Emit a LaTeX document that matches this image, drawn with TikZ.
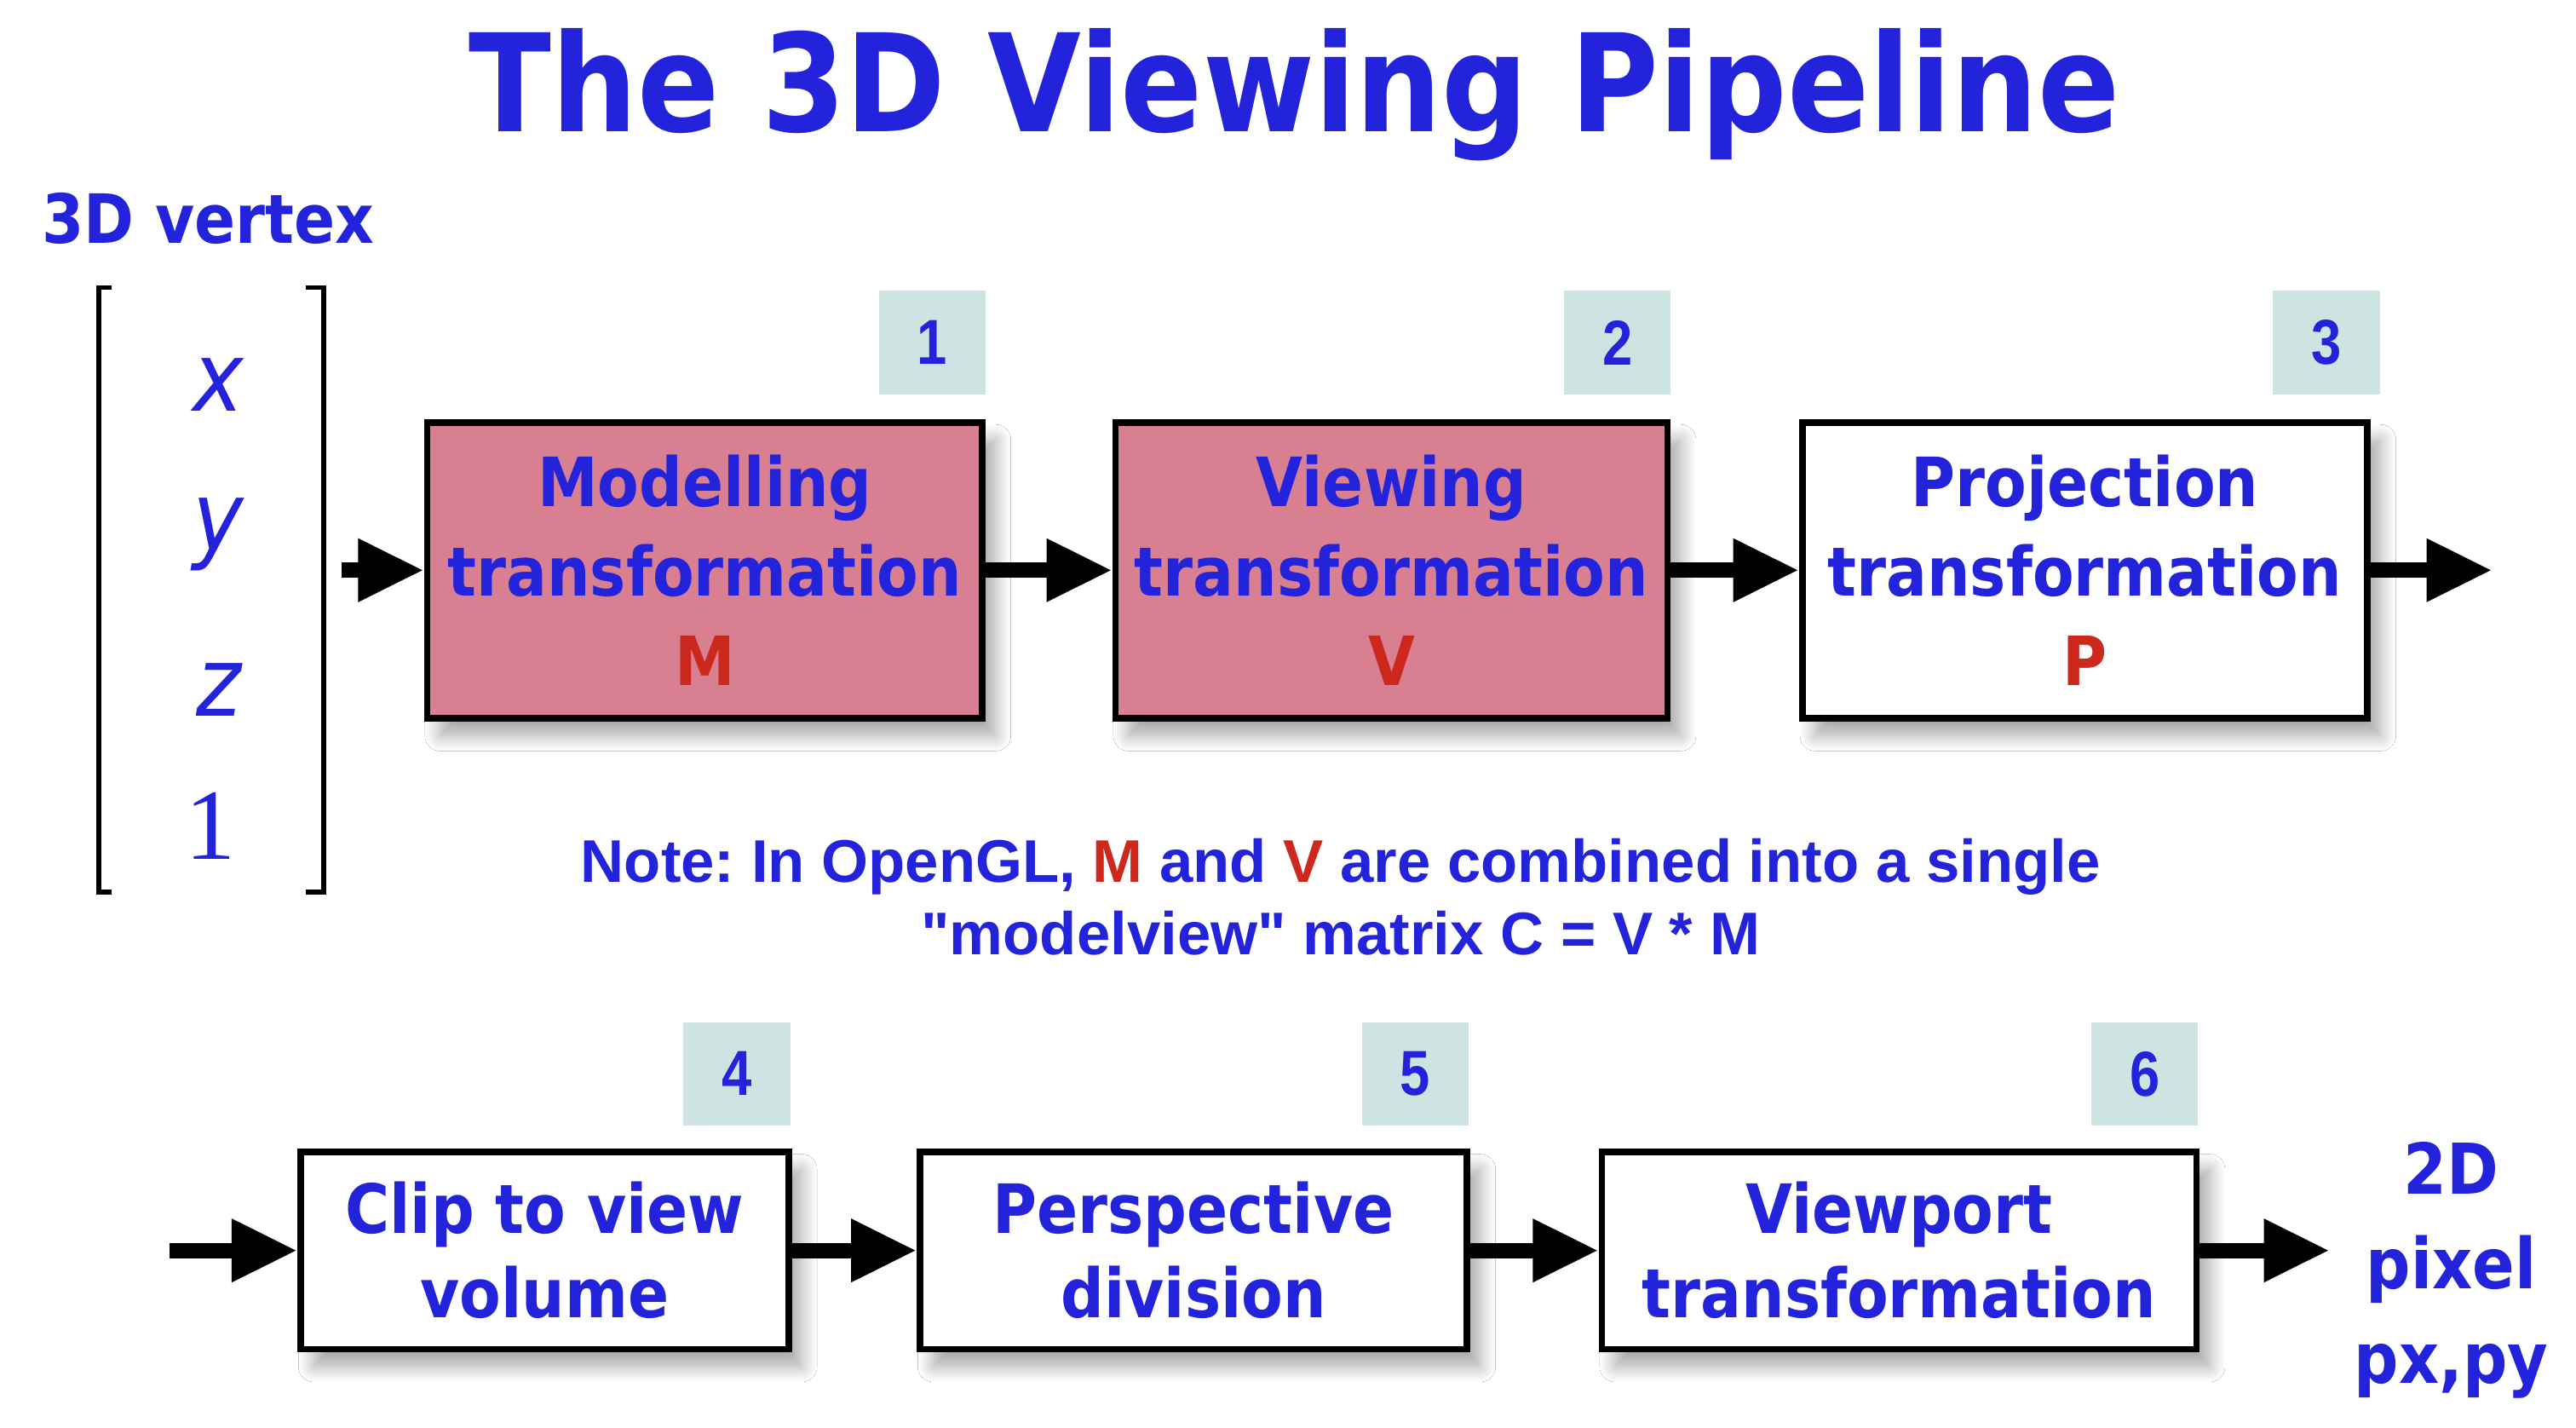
\documentclass[tikz,border=0pt]{standalone}
\usepackage{fontspec}
\usetikzlibrary{arrows.meta,shadows.blur}
\setmainfont{DejaVu Sans}[FakeStretch=0.89]
\newfontfamily\notefont{Liberation Sans}
\newfontfamily\tagfont{Liberation Sans}[FakeStretch=0.85]
\newfontfamily\onefont{Liberation Serif}
\frenchspacing

\definecolor{slideblue}{RGB}{35,35,220}
\definecolor{slidered}{RGB}{205,40,30}
\definecolor{stagepink}{RGB}{216,128,145}
\definecolor{tagteal}{RGB}{205,228,226}

\tikzset{every picture/.style={line width=0.75pt}}
\tikzset{
stage/.style={draw=black, line width=3pt, inner sep=0pt, align=center, text=slideblue,
  font=\fontsize{31}{41}\selectfont\bfseries,
  blur shadow={shadow xshift=6pt, shadow yshift=-8pt, shadow blur radius=7pt, shadow blur steps=12, shadow opacity=35}},
stagelow/.style={stage, minimum height=90pt, font=\fontsize{31}{38.5}\selectfont\bfseries},
steptag/.style={fill=tagteal, minimum width=48.75pt, minimum height=47.25pt, inner sep=0pt,
  text=slideblue, font=\tagfont\bfseries\fontsize{29}{29}\selectfont},
pipe/.style={line width=7pt, -{Triangle[length=30pt,width=27pt]}},
bracket/.style={line width=2.3pt, line join=miter},
entry/.style={anchor=base, inner sep=0pt, text=slideblue}
}

\begin{document}
\begin{tikzpicture}[x=0.75pt,y=0.75pt,yscale=-1,xscale=1]
\useasboundingbox (0,0) rectangle (1568,869);
\fill[white] (0,0) rectangle (1568,869);

% Text Node
\node (title) at (788,80) [anchor=base, inner sep=0pt, text=slideblue, font=\fontsize{62}{62}\selectfont\bfseries] {The 3D Viewing Pipeline};
% Text Node
\node (vertex) at (25,148) [anchor=base west, inner sep=0pt, text=slideblue, font=\fontsize{31}{31}\selectfont\bfseries] {3D vertex};

%Shape: Bracket
\draw [bracket] (68,175) -- (60,175) -- (60,543) -- (68,543) ;
\draw [bracket] (186,175) -- (197,175) -- (197,543) -- (186,543) ;
% Text Node
\node (vx) at (133,250) [entry, font=\fontsize{44}{44}\selectfont\itshape] {x};
\node (vy) at (133,335) [entry, font=\fontsize{44}{44}\selectfont\itshape] {y};
\node (vz) at (133,436) [entry, font=\fontsize{44}{44}\selectfont\itshape] {z};
\node (vw) at (128,523) [entry, font=\onefont\fontsize{46}{46}\selectfont] {1};

%Shape: Rectangle
\node (model) at (429,347) [stage, fill=stagepink, minimum width=253.5pt, minimum height=135pt] {Modelling\\transformation\\{\color{slidered}M}};
\node (view) at (847,347) [stage, fill=stagepink, minimum width=252pt, minimum height=135pt] {Viewing\\transformation\\{\color{slidered}V}};
\node (proj) at (1269,347) [stage, fill=white, minimum width=258pt, minimum height=135pt] {Projection\\transformation\\{\color{slidered}P}};

\node (clip) at (331.5,761) [stagelow, fill=white, minimum width=222.75pt] {Clip to view\\volume};
\node (persp) at (726.5,761) [stagelow, fill=white, minimum width=249.75pt] {Perspective\\division};
\node (port) at (1156,761) [stagelow, fill=white, minimum width=271.5pt] {Viewport\\transformation};

% Step numbers
\node (t1) at (567.5,208.5) [steptag] {1};
\node (t2) at (984.5,208.5) [steptag] {2};
\node (t3) at (1416,208.5) [steptag] {3};
\node (t4) at (448.5,653.5) [steptag] {4};
\node (t5) at (861.5,653.5) [steptag] {5};
\node (t6) at (1305.5,653.5) [steptag] {6};

% Text Node
\node (pixel) at (1492,773) [inner sep=0pt, align=center, text=slideblue, font=\fontsize{32}{43}\selectfont\bfseries] {2D\\pixel\\px,py};

%Straight Lines
\coordinate (in1) at (208,347);
\coordinate (out1) at (1517,347);
\coordinate (in2) at (103,761);
\coordinate (out2) at (1418,761);
\draw [pipe] (in1) -- (model) ;
\draw [pipe] (model) -- (view) ;
\draw [pipe] (view) -- (proj) ;
\draw [pipe] (proj) -- (out1) ;
\draw [pipe] (in2) -- (clip) ;
\draw [pipe] (clip) -- (persp) ;
\draw [pipe] (persp) -- (port) ;
\draw [pipe] (port) -- (out2) ;

% Text Node
\node (note) at (816,546) [inner sep=0pt, align=center, text=slideblue, font=\notefont\fontsize{27.5}{33}\selectfont\bfseries] {Note: In OpenGL, {\color{slidered}M} and {\color{slidered}V} are combined into a single\\"modelview" matrix C = V * M};

\end{tikzpicture}
\end{document}
